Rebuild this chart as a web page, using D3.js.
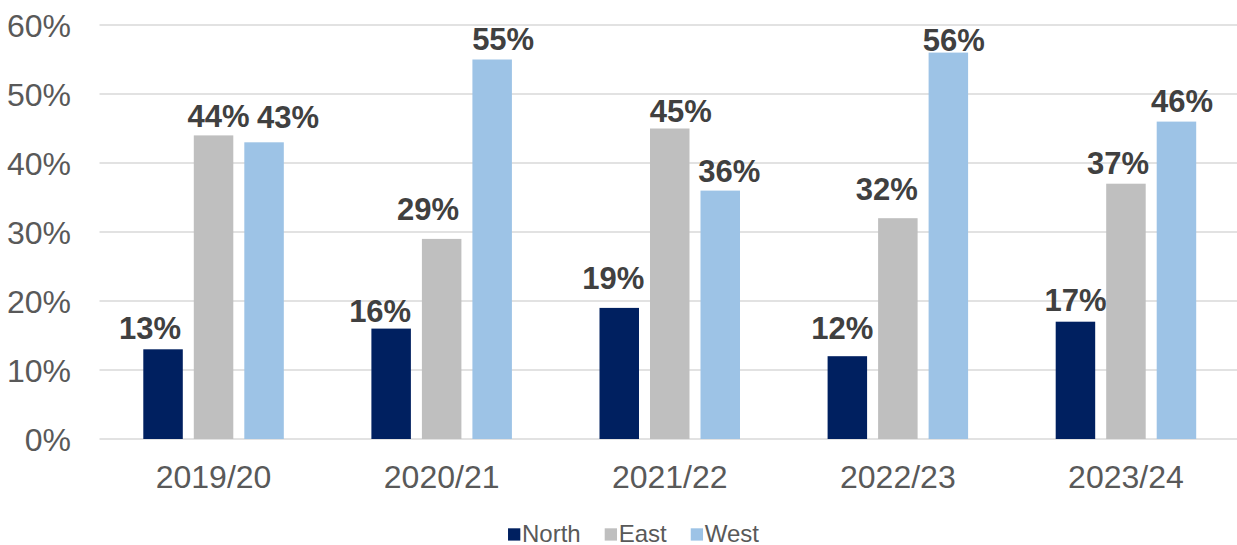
<!DOCTYPE html>
<html>
<head>
<meta charset="utf-8">
<script src="https://cdn.jsdelivr.net/npm/d3@7"></script>
<style>
  html, body { margin: 0; padding: 0; background: #ffffff; }
  svg { display: block; font-family: "Liberation Sans", Arial, sans-serif; }
</style>
</head>
<body>
<svg id="chart" width="1237" height="545"></svg>
<script>
// Share of respondents by region and year
const years = ["2019/20", "2020/21", "2021/22", "2022/23", "2023/24"];
const regions = ["North", "East", "West"];
const northValues = [13, 16, 19, 12, 17];
const eastValues = [44, 29, 45, 32, 37];
const westValues = [43, 55, 36, 56, 46];
const yTicks = [0, 10, 20, 30, 40, 50, 60];

const colors = { North: "#002060", East: "#BFBFBF", West: "#9DC3E6" };

// Hand-placed label nudges (pixels), one per year for each region
const labelDx = {
  North: [-13, -11, -6, -5, 0],
  East: [5, -13.5, 11, -11, -8],
  West: [24, 11, 9, 5.5, 5.5]
};
const labelDy = {
  North: [0, 3, -9, -7, -1],
  East: [2, -9, 3, -8, 0],
  West: [-4, 0, 1, 8, 0]
};

const seriesValues = { North: northValues, East: eastValues, West: westValues };
const rows = years.map((y, i) => ({
  year: y,
  items: regions.map(r => ({ region: r, value: seriesValues[r][i], i }))
}));

const svg = d3.select("#chart");
const margin = { left: 99.5, right: -3, top: 25, bottom: 106 };
const W = 1237, H = 545;

const x0 = d3.scaleBand()
  .domain(years)
  .range([margin.left, W - margin.right])
  .paddingInner(0.384)
  .paddingOuter(0.192);

const x1 = d3.scaleBand()
  .domain(regions)
  .range([0, x0.bandwidth()])
  .paddingInner(0.218);

const y = d3.scaleLinear()
  .domain([0, 60])
  .range([H - margin.bottom, margin.top]);

// Gridlines
svg.append("g")
  .selectAll("line")
  .data(yTicks)
  .join("line")
  .attr("x1", margin.left)
  .attr("x2", W - margin.right)
  .attr("y1", d => y(d))
  .attr("y2", d => y(d))
  .attr("stroke", "#D9D9D9")
  .attr("stroke-width", 1.5);

// Y axis labels
const yAxis = d3.axisLeft(y)
  .tickValues(yTicks)
  .tickFormat(d => d + "%")
  .tickSize(0)
  .tickPadding(0);
const yg = svg.append("g")
  .attr("transform", `translate(71,0)`)
  .call(yAxis);
yg.select(".domain").remove();
yg.selectAll("text")
  .attr("fill", "#595959")
  .attr("font-size", 32)
  .attr("font-family", "Liberation Sans, Arial, sans-serif")
  .attr("dy", "11.5px");

// X axis labels
const xAxis = d3.axisBottom(x0).tickSize(0).tickPadding(0);
const xg = svg.append("g")
  .attr("transform", `translate(0,${y(0)})`)
  .call(xAxis);
xg.select(".domain").remove();
xg.selectAll("text")
  .attr("fill", "#595959")
  .attr("font-size", 32)
  .attr("font-family", "Liberation Sans, Arial, sans-serif")
  .attr("y", 0)
  .attr("dy", "49px");

// Bars
const groups = svg.append("g")
  .selectAll("g")
  .data(rows)
  .join("g")
  .attr("transform", d => `translate(${x0(d.year)},0)`);

groups.selectAll("rect")
  .data(d => d.items)
  .join("rect")
  .attr("x", d => x1(d.region))
  .attr("width", x1.bandwidth())
  .attr("y", d => y(d.value))
  .attr("height", d => y(0) - y(d.value))
  .attr("fill", d => colors[d.region]);

// Value labels
groups.selectAll("text.value")
  .data(d => d.items)
  .join("text")
  .attr("class", "value")
  .attr("x", d => x1(d.region) + x1.bandwidth() / 2 + labelDx[d.region][d.i])
  .attr("y", d => y(d.value) - 10 + labelDy[d.region][d.i])
  .attr("text-anchor", "middle")
  .attr("font-size", 31)
  .attr("font-weight", "bold")
  .attr("fill", "#404040")
  .text(d => d.value + "%");

// Legend
const legend = svg.append("g");
const items = legend.selectAll("g")
  .data(regions)
  .join("g");
items.append("rect")
  .attr("width", 12.3)
  .attr("height", 12.3)
  .attr("y", 528.3)
  .attr("fill", d => colors[d]);
items.append("text")
  .attr("x", 14)
  .attr("y", 541.5)
  .attr("font-size", 24)
  .attr("fill", "#595959")
  .text(d => d);

let cursor = 0;
const gap = 24;
items.each(function () {
  const g = d3.select(this);
  g.attr("transform", `translate(${cursor},0)`);
  const w = 14 + g.select("text").node().getComputedTextLength();
  cursor += w + gap;
});
const totalW = cursor - gap;
legend.attr("transform", `translate(${633.5 - totalW / 2},0)`);
</script>
</body>
</html>
